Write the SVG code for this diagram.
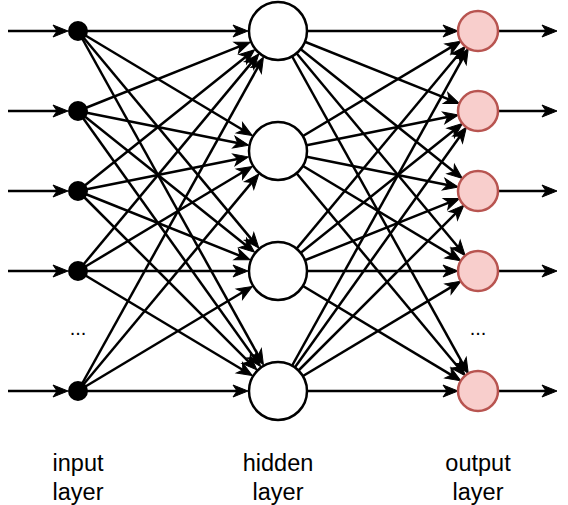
<svg xmlns="http://www.w3.org/2000/svg" width="568" height="505" viewBox="0 0 568 505">
<style>
.c{stroke:#000;stroke-width:2.5;fill:none;marker-end:url(#ah)}
.in{fill:#000;stroke:#000;stroke-width:2}
.hid{fill:#fff;stroke:#000;stroke-width:2.5}
.out{fill:#f8cecc;stroke:#b85450;stroke-width:2.5}
.t{font-family:"Liberation Sans",Arial,sans-serif;font-size:23.5px;fill:#000;text-anchor:middle}
.d{font-family:"Liberation Sans",Arial,sans-serif;font-size:20px;fill:#000;text-anchor:middle}
</style>
<defs>
<marker id="ah" markerUnits="userSpaceOnUse" orient="auto" refX="0" refY="0" markerWidth="20" markerHeight="20" overflow="visible">
<path d="M6,0 L-9,-6 L-5,0 L-9,6 Z" fill="#000" stroke="#000" stroke-width="1"/>
</marker>
</defs>
<g id="connectors">
<line class="c" x1="8" y1="31" x2="62" y2="31"/>
<line class="c" x1="8" y1="111" x2="62" y2="111"/>
<line class="c" x1="8" y1="191" x2="62" y2="191"/>
<line class="c" x1="8" y1="271" x2="62" y2="271"/>
<line class="c" x1="8" y1="391" x2="62" y2="391"/>
<line class="c" x1="78" y1="31" x2="242" y2="31"/>
<line class="c" x1="78" y1="31" x2="247.13" y2="132.48"/>
<line class="c" x1="78" y1="31" x2="254.95" y2="243.34"/>
<line class="c" x1="78" y1="31" x2="260.52" y2="359.53"/>
<line class="c" x1="78" y1="111" x2="244.57" y2="44.37"/>
<line class="c" x1="78" y1="111" x2="242.70" y2="143.94"/>
<line class="c" x1="78" y1="111" x2="249.89" y2="248.51"/>
<line class="c" x1="78" y1="111" x2="257.08" y2="361.71"/>
<line class="c" x1="78" y1="191" x2="249.89" y2="53.49"/>
<line class="c" x1="78" y1="191" x2="242.70" y2="158.06"/>
<line class="c" x1="78" y1="191" x2="244.57" y2="257.63"/>
<line class="c" x1="78" y1="191" x2="252.54" y2="365.54"/>
<line class="c" x1="78" y1="271" x2="254.95" y2="58.66"/>
<line class="c" x1="78" y1="271" x2="247.13" y2="169.52"/>
<line class="c" x1="78" y1="271" x2="242" y2="271"/>
<line class="c" x1="78" y1="271" x2="247.13" y2="372.48"/>
<line class="c" x1="78" y1="391" x2="260.52" y2="62.47"/>
<line class="c" x1="78" y1="391" x2="254.95" y2="178.66"/>
<line class="c" x1="78" y1="391" x2="247.13" y2="289.52"/>
<line class="c" x1="78" y1="391" x2="242" y2="391"/>
<line class="c" x1="278" y1="31" x2="452" y2="31"/>
<line class="c" x1="278" y1="31" x2="453.86" y2="101.34"/>
<line class="c" x1="278" y1="31" x2="457.70" y2="174.76"/>
<line class="c" x1="278" y1="31" x2="461.35" y2="251.03"/>
<line class="c" x1="278" y1="31" x2="465.37" y2="368.27"/>
<line class="c" x1="278" y1="151" x2="455.70" y2="44.38"/>
<line class="c" x1="278" y1="151" x2="452.50" y2="116.10"/>
<line class="c" x1="278" y1="151" x2="452.50" y2="185.90"/>
<line class="c" x1="278" y1="151" x2="455.70" y2="257.62"/>
<line class="c" x1="278" y1="151" x2="461.35" y2="371.03"/>
<line class="c" x1="278" y1="271" x2="461.35" y2="50.97"/>
<line class="c" x1="278" y1="271" x2="457.70" y2="127.24"/>
<line class="c" x1="278" y1="271" x2="453.86" y2="200.66"/>
<line class="c" x1="278" y1="271" x2="452" y2="271"/>
<line class="c" x1="278" y1="271" x2="455.70" y2="377.62"/>
<line class="c" x1="278" y1="391" x2="465.37" y2="53.73"/>
<line class="c" x1="278" y1="391" x2="462.89" y2="132.16"/>
<line class="c" x1="278" y1="391" x2="459.62" y2="209.38"/>
<line class="c" x1="278" y1="391" x2="455.70" y2="284.38"/>
<line class="c" x1="278" y1="391" x2="452" y2="391"/>
<line class="c" x1="499" y1="31" x2="551" y2="31"/>
<line class="c" x1="499" y1="111" x2="551" y2="111"/>
<line class="c" x1="499" y1="191" x2="551" y2="191"/>
<line class="c" x1="499" y1="271" x2="551" y2="271"/>
<line class="c" x1="499" y1="391" x2="551" y2="391"/>
</g>
<g id="input-1"><circle class="in" cx="78" cy="31" r="9"/></g>
<g id="input-2"><circle class="in" cx="78" cy="111" r="9"/></g>
<g id="input-3"><circle class="in" cx="78" cy="191" r="9"/></g>
<g id="input-4"><circle class="in" cx="78" cy="271" r="9"/></g>
<g id="input-5"><circle class="in" cx="78" cy="391" r="9"/></g>
<g id="hidden-1"><circle class="hid" cx="278" cy="31" r="29"/></g>
<g id="hidden-2"><circle class="hid" cx="278" cy="151" r="29"/></g>
<g id="hidden-3"><circle class="hid" cx="278" cy="271" r="29"/></g>
<g id="hidden-4"><circle class="hid" cx="278" cy="391" r="29"/></g>
<g id="output-1"><circle class="out" cx="478" cy="31" r="20"/></g>
<g id="output-2"><circle class="out" cx="478" cy="111" r="20"/></g>
<g id="output-3"><circle class="out" cx="478" cy="191" r="20"/></g>
<g id="output-4"><circle class="out" cx="478" cy="271" r="20"/></g>
<g id="output-5"><circle class="out" cx="478" cy="391" r="20"/></g>
<g id="input-dots"><text class="d" x="78" y="335">...</text></g>
<g id="output-dots"><text class="d" x="478" y="335">...</text></g>
<g id="label-input"><text class="t" x="78" y="471">input</text><text class="t" x="78" y="500">layer</text></g>
<g id="label-hidden"><text class="t" x="278" y="471">hidden</text><text class="t" x="278" y="500">layer</text></g>
<g id="label-output"><text class="t" x="478" y="471">output</text><text class="t" x="478" y="500">layer</text></g>
</svg>
